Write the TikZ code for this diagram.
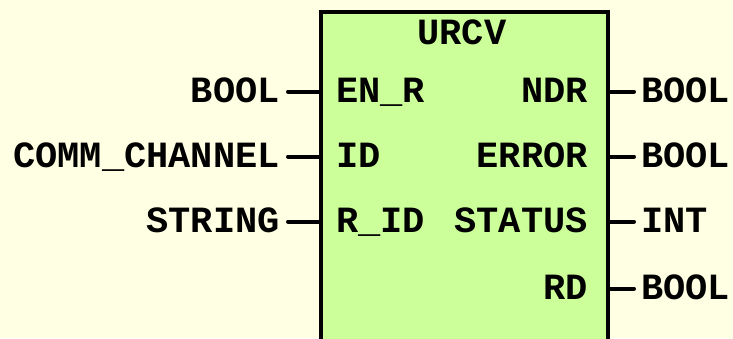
\documentclass[tikz,border=0pt]{standalone}
\usepackage{fontspec}
\setmainfont{Liberation Mono}
\usetikzlibrary{positioning, calc}
\definecolor{cbg}{HTML}{FFFFE3}
\definecolor{cfb}{HTML}{CCFF99}
\tikzset{
  every picture/.style={x=1pt, y=-1pt, font=\fontsize{37}{40}\selectfont\bfseries},
  fblock/.style={draw=black, fill=cfb, line width=4pt, anchor=north west, inner sep=0pt},
  lbl/.style={inner sep=0pt, text height=21pt, text depth=0pt},
  pin/.style={draw=black, line width=4pt, line cap=round},
}
\begin{document}
\begin{tikzpicture}
  \useasboundingbox[fill=cbg] (0,0) rectangle (733,338);
  \node[fblock, minimum width=287pt, minimum height=345pt] (fb) at (319,10) {};
  \node[lbl, anchor=base] (name) at (462,44) {URCV};
  % inputs
  \node[lbl, anchor=base east] (t1) at (280,102) {BOOL};
  \node[lbl, anchor=base east] (t2) at (280,167) {COMM\_CHANNEL};
  \node[lbl, anchor=base east] (t3) at (280,232) {STRING};
  \node[lbl, anchor=base west] (i1) at (336,102) {EN\_R};
  \node[lbl, anchor=base west] (i2) at (336,167) {ID};
  \node[lbl, anchor=base west] (i3) at (336,232) {R\_ID};
  \foreach \n in {1,2,3}
    \draw[pin] ([xshift=8pt]t\n.east) -- (t\n.east -| fb.west);
  % outputs
  \node[lbl, anchor=base east] (o1) at (588,102) {NDR};
  \node[lbl, anchor=base east] (o2) at (588,167) {ERROR};
  \node[lbl, anchor=base east] (o3) at (588,232) {STATUS};
  \node[lbl, anchor=base east] (o4) at (588,299) {RD};
  \node[lbl, anchor=base west] (u1) at (641,102) {BOOL};
  \node[lbl, anchor=base west] (u2) at (641,167) {BOOL};
  \node[lbl, anchor=base west] (u3) at (641,232) {INT};
  \node[lbl, anchor=base west] (u4) at (641,299) {BOOL};
  \foreach \n in {1,...,4}
    \draw[pin] (u\n.west -| fb.east) -- ([xshift=-7pt]u\n.west);
\end{tikzpicture}
\end{document}
